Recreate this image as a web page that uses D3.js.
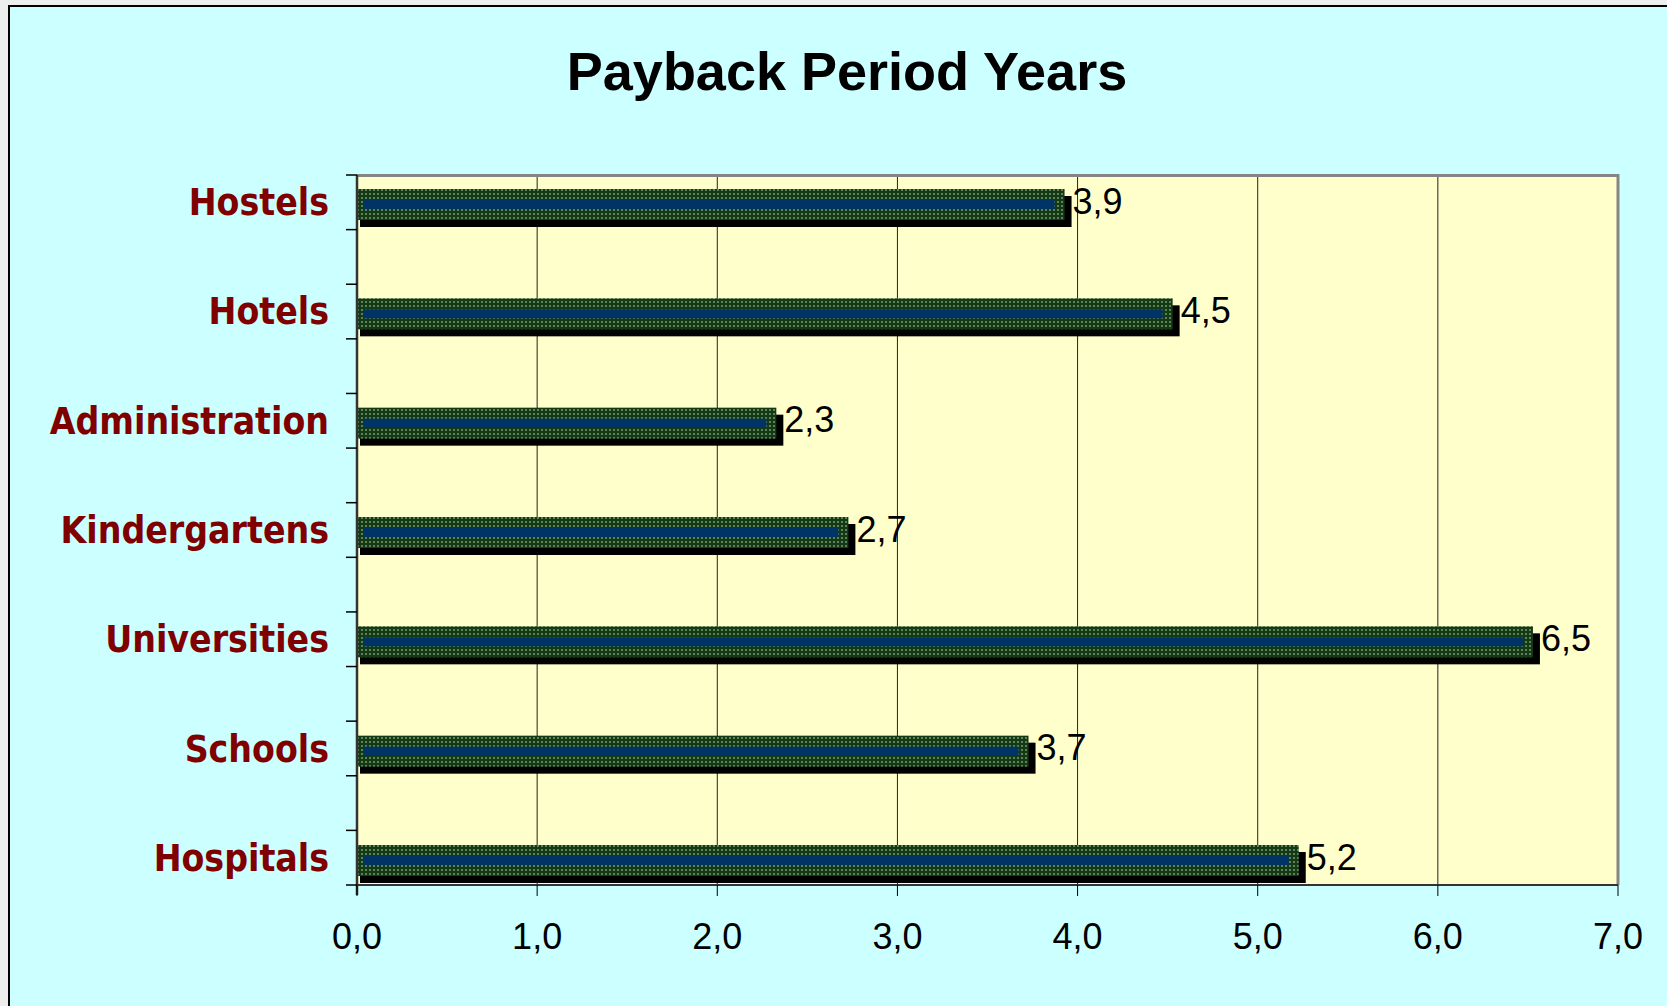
<!DOCTYPE html>
<html lang="en">
	<head>
		<meta charset="utf-8">
		<title>Payback Period Years</title>
		<script type="text/javascript" src="https://d3js.org/d3.v7.min.js"></script>
		<style type="text/css">
			body { margin: 0; background: #eeeeee; }
			svg { display: block; }
		</style>
	</head>
	<body>
		<script type="text/javascript">

			// chart data, top to bottom as shown
			var categories = ["Hostels", "Hotels", "Administration", "Kindergartens", "Universities", "Schools", "Hospitals"];
			var paybackYears = [3.9, 4.5, 2.3, 2.7, 6.5, 3.7, 5.2];
			var xTicks = [0, 1, 2, 3, 4, 5, 6, 7];

			//Width and height
			var w = 1667;
			var h = 1006;

			// plot area (note: "top" is reserved on window, so use plot* names)
			var plotLeft = 357, plotRight = 1618, plotTop = 175, plotBottom = 885;

			var svg = d3.select("body")
						.append("svg")
						.attr("width", w)
						.attr("height", h);

			// green pattern fill for the bars
			var defs = svg.append("defs");
			var pat = defs.append("pattern")
				.attr("id", "greenDots")
				.attr("patternUnits", "userSpaceOnUse")
				.attr("width", 4)
				.attr("height", 4);
			pat.append("rect").attr("width", 4).attr("height", 4).attr("fill", "#143a14");
			pat.append("rect").attr("x", 1).attr("y", 1).attr("width", 2).attr("height", 2).attr("fill", "#6f8f6f");
			pat.append("rect").attr("x", 1.5).attr("y", 1.5).attr("width", 1).attr("height", 1).attr("fill", "#2a552a");

			// outer chart area
			svg.append("rect")
				.attr("x", 9).attr("y", 6)
				.attr("width", w).attr("height", h)
				.attr("fill", "#ccffff")
				.attr("stroke", "#000")
				.attr("stroke-width", 2);

			//Scales
			var x = d3.scaleLinear().domain([0, 7]).range([plotLeft, plotRight]);
			var y = d3.scalePoint().domain(categories).range([plotTop + 29.5, plotBottom - 24.5]);
			var tickY = d3.scaleLinear().domain([0, 13]).range([plotTop, plotBottom]);

			// plot background
			svg.append("rect")
				.attr("x", plotLeft).attr("y", plotTop)
				.attr("width", plotRight - plotLeft).attr("height", plotBottom - plotTop)
				.attr("fill", "#ffffcc");

			// vertical grid lines
			svg.selectAll(".grid")
				.data(xTicks.slice(1, -1))
				.enter()
				.append("line")
				.attr("x1", function(d) { return x(d); })
				.attr("x2", function(d) { return x(d); })
				.attr("y1", plotTop)
				.attr("y2", plotBottom)
				.attr("stroke", "#222")
				.attr("stroke-width", 1);

			// top and right border (grey)
			svg.append("path")
				.attr("d", "M" + plotLeft + "," + (plotTop + 0.5) + "H" + plotRight + "V" + plotBottom)
				.attr("fill", "none")
				.attr("stroke", "#858585")
				.attr("stroke-width", 3);

			// shadows
			svg.selectAll(".shadow")
				.data(paybackYears)
				.enter()
				.append("rect")
				.attr("x", plotLeft + 3)
				.attr("y", function(d, i) { return y(categories[i]) - 15.5 + 7; })
				.attr("width", function(d) { return x(d) + 5 + 7 - plotLeft - 3; })
				.attr("height", 31)
				.attr("fill", "#000");

			// green bars
			svg.selectAll(".bar")
				.data(paybackYears)
				.enter()
				.append("rect")
				.attr("x", plotLeft)
				.attr("y", function(d, i) { return y(categories[i]) - 15.5; })
				.attr("width", function(d) { return x(d) + 5 - plotLeft; })
				.attr("height", 31)
				.attr("fill", "url(#greenDots)");

			// blue inner stripe
			svg.selectAll(".inner")
				.data(paybackYears)
				.enter()
				.append("rect")
				.attr("x", plotLeft + 7)
				.attr("y", function(d, i) { return y(categories[i]) - 4.5; })
				.attr("width", function(d) { return x(d) - 5 - plotLeft - 7; })
				.attr("height", 9)
				.attr("fill", "#003366");

			// value labels
			svg.selectAll(".val")
				.data(paybackYears)
				.enter()
				.append("text")
				.attr("x", function(d) { return x(d) + 13; })
				.attr("y", function(d, i) { return y(categories[i]) + 9; })
				.style("font-family", "'Liberation Sans', Arial, sans-serif")
				.style("font-size", "36px")
				.attr("fill", "#000")
				.text(function(d) { return d3.format(".1f")(d).replace(".", ","); });

			// left axis line and ticks
			svg.append("line")
				.attr("x1", plotLeft).attr("x2", plotLeft)
				.attr("y1", plotTop).attr("y2", plotBottom + 10)
				.attr("stroke", "#333").attr("stroke-width", 2.5);
			svg.selectAll(".ytick")
				.data(d3.range(14))
				.enter()
				.append("line")
				.attr("x1", plotLeft - 11).attr("x2", plotLeft)
				.attr("y1", function(d) { return tickY(d); })
				.attr("y2", function(d) { return tickY(d); })
				.attr("stroke", "#000").attr("stroke-width", 1.5);

			// bottom axis line and ticks
			svg.append("line")
				.attr("x1", plotLeft).attr("x2", plotRight)
				.attr("y1", plotBottom).attr("y2", plotBottom)
				.attr("stroke", "#333").attr("stroke-width", 2);
			svg.selectAll(".xtick")
				.data(xTicks)
				.enter()
				.append("line")
				.attr("x1", function(d) { return x(d); })
				.attr("x2", function(d) { return x(d); })
				.attr("y1", plotBottom).attr("y2", plotBottom + 11)
				.attr("stroke", "#000").attr("stroke-width", 1);

			// x tick labels
			svg.selectAll(".xlab")
				.data(xTicks)
				.enter()
				.append("text")
				.attr("x", function(d) { return x(d); })
				.attr("y", 949)
				.attr("text-anchor", "middle")
				.style("font-family", "'Liberation Sans', Arial, sans-serif")
				.style("font-size", "36px")
				.attr("fill", "#000")
				.text(function(d) { return d3.format(".1f")(d).replace(".", ","); });

			// category labels
			svg.selectAll(".ylab")
				.data(categories)
				.enter()
				.append("text")
				.attr("x", 329)
				.attr("y", function(d) { return y(d) + 10.5; })
				.attr("text-anchor", "end")
				.style("font-family", "'DejaVu Sans Condensed', 'DejaVu Sans', sans-serif")
				.style("font-weight", "bold")
				.style("font-size", "37px")
				.attr("fill", "#800000")
				.text(function(d) { return d; });

			// title
			svg.append("text")
				.attr("x", 847)
				.attr("y", 90)
				.attr("text-anchor", "middle")
				.style("font-family", "'Liberation Sans', Arial, sans-serif")
				.style("font-weight", "bold")
				.style("font-size", "54px")
				.attr("fill", "#000")
				.text("Payback Period Years");

		</script>
	</body>
</html>
